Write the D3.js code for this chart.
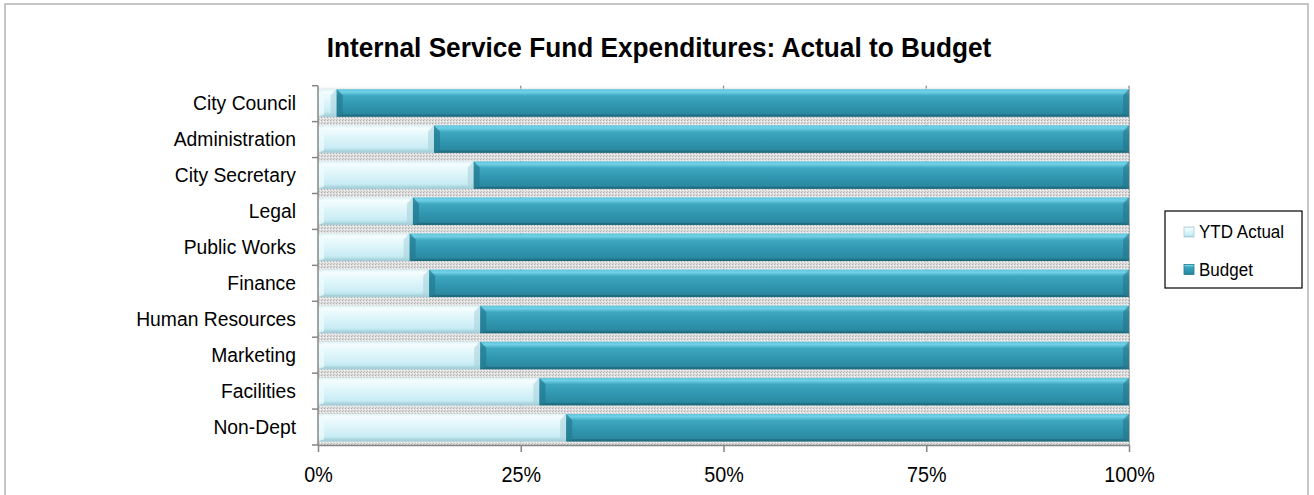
<!DOCTYPE html>
<html>
<head>
<meta charset="utf-8">
<script src="https://cdn.jsdelivr.net/npm/d3@7"></script>
<style>
  html, body { margin: 0; padding: 0; background: #fff; }
  svg { display: block; font-family: "Liberation Sans", Arial, sans-serif; }
</style>
</head>
<body>
<svg id="chart" width="1314" height="495"></svg>
<script>
// Departments, top to bottom
const categories = ["City Council", "Administration", "City Secretary", "Legal", "Public Works",
  "Finance", "Human Resources", "Marketing", "Facilities", "Non-Dept"];
// Share of each department's total (percent)
const ytdActual = [2.3, 14.3, 19.2, 11.7, 11.3, 13.7, 20.0, 20.0, 27.3, 30.6];
const budget = [97.7, 85.7, 80.8, 88.3, 88.7, 86.3, 80.0, 80.0, 72.7, 69.4];
const seriesNames = ["YTD Actual", "Budget"];
const xTickValues = [0, 0.25, 0.5, 0.75, 1];

const rows = categories.map((c, i) => ({ category: c, "YTD Actual": ytdActual[i], "Budget": budget[i] }));

const svg = d3.select("#chart");
const plot = { left: 318, right: 1129, top: 85.7, bottom: 445 };
const narrow = 0.92; // horizontal squeeze applied to all text

// Squeeze text horizontally around its own anchor point
function condense(sel) {
  sel.each(function () {
    const t = d3.select(this);
    const xv = +(t.attr("x") || 0);
    t.attr("x", xv / narrow).attr("transform", `scale(${narrow},1)`);
  });
}

// ---- defs: gradients and the shadow texture
const defs = svg.append("defs");
function vGrad(id, stops) {
  const g = defs.append("linearGradient").attr("id", id)
    .attr("x1", 0).attr("y1", 0).attr("x2", 0).attr("y2", 1);
  stops.forEach(([o, c]) => g.append("stop").attr("offset", o).attr("stop-color", c));
}
vGrad("gActual", [[0, "#bfe6ee"], [0.1, "#f4fdff"], [0.45, "#def5fa"], [0.82, "#c9ecf4"], [1, "#9ccbd6"]]);
vGrad("gBudget", [[0, "#4cb7cf"], [0.1, "#6fd0e5"], [0.24, "#3ea7c0"], [0.6, "#3096af"], [0.88, "#2b8aa2"], [1, "#1e6a7d"]]);

const pat = defs.append("pattern").attr("id", "shadowTex")
  .attr("width", 3).attr("height", 3).attr("patternUnits", "userSpaceOnUse");
pat.append("rect").attr("width", 3).attr("height", 3).attr("fill", "#dcdcdc");
pat.append("rect").attr("width", 1).attr("height", 1).attr("fill", "#a9a9a9");
pat.append("rect").attr("x", 2).attr("y", 1).attr("width", 1).attr("height", 1).attr("fill", "#f4f4f4");
pat.append("rect").attr("x", 1).attr("y", 2).attr("width", 1).attr("height", 1).attr("fill", "#bdbdbd");

// ---- outer chart frame
svg.append("rect").attr("x", 5).attr("y", 4).attr("width", 1303).attr("height", 520)
  .attr("fill", "none").attr("stroke", "#b3b3b3").attr("stroke-width", 1.5);

// ---- title
svg.append("text").attr("x", 659).attr("y", 57).attr("text-anchor", "middle")
  .attr("font-size", 28.5).attr("font-weight", "bold").attr("fill", "#000")
  .text("Internal Service Fund Expenditures: Actual to Budget")
  .call(condense);

// ---- scales
const x = d3.scaleLinear().domain([0, 1]).range([plot.left, plot.right]);
const y = d3.scaleBand().domain(categories).range([plot.top, plot.bottom])
  .paddingInner(0.24).paddingOuter(0.1);
const boundary = d3.scaleLinear().domain([0, categories.length]).range([plot.top, plot.bottom]);

const stacked = d3.stack().keys(seriesNames).offset(d3.stackOffsetExpand)(rows);

// ---- gridlines
svg.append("g").selectAll("line").data(xTickValues.slice(1)).join("line")
  .attr("x1", d => x(d)).attr("x2", d => x(d))
  .attr("y1", plot.top).attr("y2", plot.bottom)
  .attr("stroke", "#7f7f7f").attr("stroke-width", 1.2);

// ---- bar shadows (textured strip beneath each bar)
const bh = y.bandwidth();
const shadowH = y.step() - bh;
svg.append("g").selectAll("rect").data(categories).join("rect")
  .attr("x", x(0)).attr("width", x(1) - x(0))
  .attr("y", d => y(d) + bh)
  .attr("height", d => Math.min(shadowH, plot.bottom - (y(d) + bh)))
  .attr("fill", "url(#shadowTex)").attr("opacity", 0.95);
svg.append("rect").attr("x", x(0)).attr("width", x(1) - x(0))
  .attr("y", y(categories[0]) - 1.5).attr("height", 1.5)
  .attr("fill", "url(#shadowTex)").attr("opacity", 0.6);

// ---- bars with bevelled ends
const bevel = 6;
const colors = {
  "YTD Actual": { fill: "url(#gActual)", top: "#f7feff", left: "#eefbfe", right: "#a9d3dd", bottom: "#a6cfd9" },
  "Budget": { fill: "url(#gBudget)", top: "#72d2e7", left: "#247c91", right: "#23778c", bottom: "#1f6b7e" }
};
stacked.forEach(layer => {
  const c = colors[layer.key];
  const g = svg.append("g").attr("class", "series");
  layer.forEach(seg => {
    const x0 = x(seg[0]), x1 = x(seg[1]);
    const y0 = y(seg.data.category), y1 = y0 + bh;
    const w = x1 - x0;
    if (w <= 0) return;
    const b = Math.min(bevel, w / 2);
    g.append("rect").attr("x", x0).attr("y", y0).attr("width", w).attr("height", bh).attr("fill", c.fill);
    g.append("polygon").attr("fill", c.top).attr("opacity", 0.55)
      .attr("points", [[x0, y0], [x1, y0], [x1 - b, y0 + 3], [x0 + b, y0 + 3]].join(" "));
    g.append("polygon").attr("fill", c.left).attr("opacity", 0.75)
      .attr("points", [[x0, y0], [x0 + b, y0 + b], [x0 + b, y1 - 2], [x0, y1]].join(" "));
    g.append("polygon").attr("fill", c.right).attr("opacity", 0.6)
      .attr("points", [[x1, y0], [x1, y1], [x1 - b, y1 - 2], [x1 - b, y0 + b]].join(" "));
    g.append("polygon").attr("fill", c.bottom).attr("opacity", 0.7)
      .attr("points", [[x0, y1], [x1, y1], [x1 - b, y1 - 2], [x0 + b, y1 - 2]].join(" "));
  });
});

// ---- y axis: line, boundary ticks, category labels
const axisColor = "#868686";
svg.append("line").attr("x1", plot.left).attr("x2", plot.left)
  .attr("y1", plot.top).attr("y2", plot.bottom).attr("stroke", axisColor).attr("stroke-width", 1.5);
svg.append("g").selectAll("line").data(d3.range(categories.length + 1)).join("line")
  .attr("x1", plot.left - 6).attr("x2", plot.left)
  .attr("y1", d => boundary(d)).attr("y2", d => boundary(d))
  .attr("stroke", axisColor).attr("stroke-width", 1.5);

const yAxis = svg.append("g").attr("transform", `translate(${plot.left},0)`)
  .call(d3.axisLeft(y).tickSize(0).tickPadding(22));
yAxis.select(".domain").remove();
yAxis.selectAll("text").attr("font-size", 21).attr("fill", "#000")
  .attr("font-family", "'Liberation Sans', Arial, sans-serif")
  .call(condense);

// ---- x axis
const xAxis = svg.append("g").attr("transform", `translate(0,${plot.bottom})`)
  .call(d3.axisBottom(x).tickValues(xTickValues).tickFormat(d3.format(".0%")).tickSizeInner(7).tickSizeOuter(0).tickPadding(15));
xAxis.select(".domain").attr("stroke", axisColor).attr("stroke-width", 1.5);
xAxis.selectAll(".tick line").attr("stroke", axisColor).attr("stroke-width", 1.5);
xAxis.selectAll("text").attr("font-size", 21.5).attr("fill", "#000")
  .attr("font-family", "'Liberation Sans', Arial, sans-serif")
  .call(condense);

// ---- legend
const legend = svg.append("g");
legend.append("rect").attr("x", 1165).attr("y", 211).attr("width", 137).attr("height", 77)
  .attr("fill", "#fff").attr("stroke", "#000").attr("stroke-width", 1.2);
const legendY = d3.scalePoint().domain(seriesNames).range([232, 269.5]);
const item = legend.selectAll("g.item").data(seriesNames).join("g").attr("class", "item")
  .attr("transform", d => `translate(1184,${legendY(d)})`);
item.append("rect").attr("x", 0).attr("y", -5).attr("width", 10).attr("height", 10)
  .attr("fill", d => colors[d].fill).attr("stroke", d => d === "Budget" ? "#2a7d92" : "#a9cdd6").attr("stroke-width", 0.8);
item.append("text").attr("x", 15).attr("y", 0).attr("dy", "0.35em")
  .attr("font-size", 18.5).attr("fill", "#000").text(d => d)
  .call(condense);
</script>
</body>
</html>
